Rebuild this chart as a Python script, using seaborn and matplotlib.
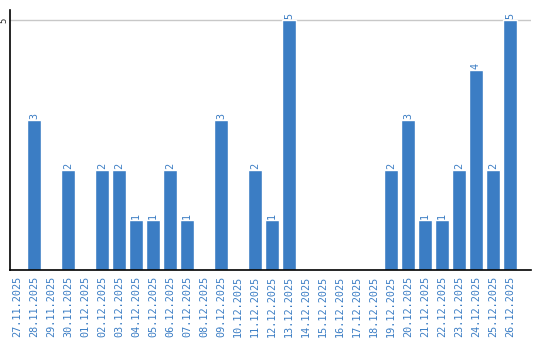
import matplotlib
matplotlib.use("Agg")
import matplotlib.pyplot as plt
import seaborn as sns
import pandas as pd

dates = ["27.11.2025", "28.11.2025", "29.11.2025", "30.11.2025", "01.12.2025",
         "02.12.2025", "03.12.2025", "04.12.2025", "05.12.2025", "06.12.2025",
         "07.12.2025", "08.12.2025", "09.12.2025", "10.12.2025", "11.12.2025",
         "12.12.2025", "13.12.2025", "14.12.2025", "15.12.2025", "16.12.2025",
         "17.12.2025", "18.12.2025", "19.12.2025", "20.12.2025", "21.12.2025",
         "22.12.2025", "23.12.2025", "24.12.2025", "25.12.2025", "26.12.2025"]
values = [0, 3, 0, 2, 0,
          2, 2, 1, 1, 2,
          1, 0, 3, 0, 2,
          1, 5, 0, 0, 0,
          0, 0, 2, 3, 1,
          1, 2, 4, 2, 5]
yticks = [5]

sns.set_style("white")
BLUE = "#3b7dc4"

df = pd.DataFrame({"date": dates, "value": values})
fig = plt.figure(figsize=(5.4, 3.4), dpi=100)
ax = fig.add_axes([10/540, 1-270/340, 521/540, 260/340])
sns.barplot(data=df, x="date", y="value", color=BLUE, saturation=1, width=0.82, ax=ax)
ax.set_ylim(0, 5.21)
ax.set_xlim(-0.41, 30.24)
ax.set_yticks(yticks)
ax.set_yticklabels([str(t) for t in yticks], rotation=90, va="center", fontsize=6.5,
                   family="DejaVu Sans Mono")
ax.tick_params(axis="y", length=0, pad=1)
ax.tick_params(axis="x", length=0, pad=4)
ax.set_xticks(range(len(dates)))
ax.set_xticklabels(dates, rotation=90, color=BLUE, fontsize=7.3, family="DejaVu Sans Mono")
for t in yticks:
    ax.axhline(t, color="#c8c8c8", lw=1, zorder=0)
for i, v in enumerate(values):
    if v > 0:
        ax.text(i, v + 0.03, str(v), rotation=90, ha="center", va="bottom",
                color=BLUE, fontsize=7.3, family="DejaVu Sans Mono")
ax.set_xlabel("")
ax.set_ylabel("")
for s in ["top", "right"]:
    ax.spines[s].set_visible(False)
for s in ["left", "bottom"]:
    ax.spines[s].set_color("black")
    ax.spines[s].set_linewidth(1.2)
fig.savefig("out.png", dpi=100)
